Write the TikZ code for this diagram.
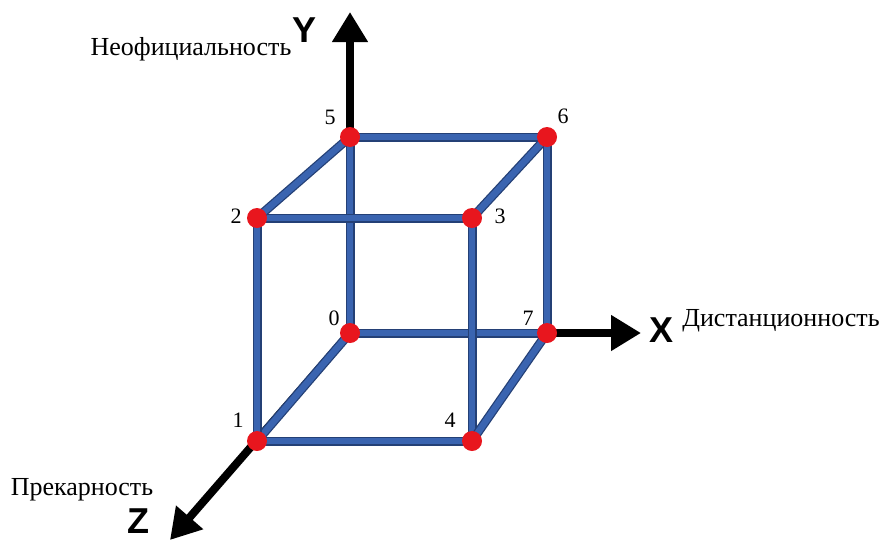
\documentclass[tikz,border=0pt]{standalone}
\usepackage{fontspec}
\setmainfont{Liberation Serif}
\newfontfamily\axfont{Liberation Sans}
\usetikzlibrary{arrows.meta}
\definecolor{edgeblue}{RGB}{58,100,176}
\definecolor{edgedark}{RGB}{36,64,118}
\definecolor{dotred}{RGB}{232,22,30}
\tikzset{
  edge/.style={preaction={draw=edgedark,line width=9pt},draw=edgeblue,line width=6.5pt},
  axis/.style={draw=black,line width=8pt,-{Triangle[length=30pt,width=34pt]}},
  dot/.style={circle,fill=dotred,inner sep=0pt,minimum size=20pt},
  num/.style={font=\fontsize{22}{24}\selectfont,anchor=base,inner sep=0pt},
  lbl/.style={font=\fontsize{26}{28}\selectfont,anchor=base,inner sep=0pt},
  axl/.style={font=\axfont\bfseries\fontsize{36}{38}\selectfont,anchor=base,inner sep=0pt}
}
\begin{document}
\begin{tikzpicture}[x=1pt,y=-1pt]
\useasboundingbox (0,0) rectangle (885,541);
\coordinate (p0) at (350,333);
\coordinate (p1) at (257,441);
\coordinate (p2) at (257,218);
\coordinate (p3) at (472,218);
\coordinate (p4) at (472,441);
\coordinate (p5) at (350,137);
\coordinate (p6) at (547,137);
\coordinate (p7) at (547,333);
\coordinate (ty) at (350,12);
\coordinate (tx) at (641,333);
\coordinate (tz) at (170,540);
% axes
\draw[axis] (p0) -- (ty);
\draw[axis] (p0) -- (tx);
\draw[axis] (p0) -- (tz);
% cube edges
\draw[edge] (p0) -- (p5);
\draw[edge] (p0) -- (p7);
\draw[edge] (p0) -- (p1);
\draw[edge] (p1) -- (p2);
\draw[edge] (p1) -- (p4);
\draw[edge] (p2) -- (p3);
\draw[edge] (p2) -- (p5);
\draw[edge] (p3) -- (p4);
\draw[edge] (p3) -- (p6);
\draw[edge] (p5) -- (p6);
\draw[edge] (p6) -- (p7);
\draw[edge] (p4) -- (p7);
% dots
\foreach \i in {0,...,7} { \node[dot] (d\i) at (p\i) {}; }
% numbers
\node[num] (n0) at (334,325) {0};
\node[num] (n1) at (238,427) {1};
\node[num] (n2) at (236,223) {2};
\node[num] (n3) at (500,223) {3};
\node[num] (n4) at (450,427) {4};
\node[num] (n5) at (330,124) {5};
\node[num] (n6) at (563,123) {6};
\node[num] (n7) at (528,325) {7};
% axis letters
\node[axl] (ly) at (305,42) {Y};
\node[axl] (lx) at (661,342) {X};
\node[axl] (lz) at (138,533) {Z};
% axis names
\node[lbl] (ny) at (191,55) {Неофициальность};
\node[lbl] (nx) at (781,326) {Дистанционность};
\node[lbl] (nz) at (82,495) {Прекарность};
\end{tikzpicture}
\end{document}
